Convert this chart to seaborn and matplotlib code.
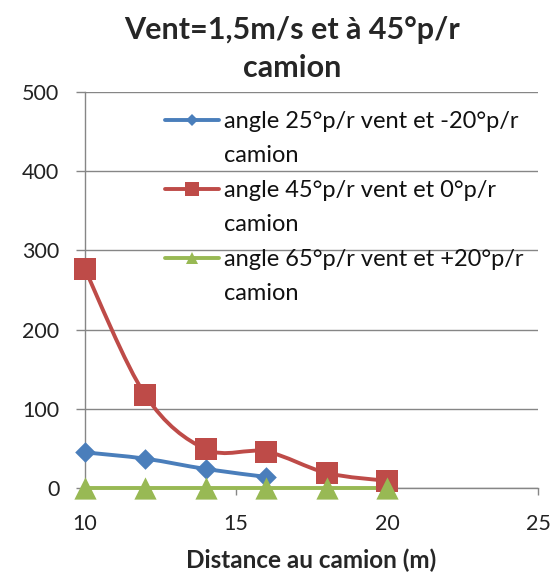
import numpy as np
import pandas as pd
import seaborn as sns
import matplotlib
matplotlib.use("Agg")
import matplotlib.pyplot as plt
from matplotlib.path import Path
from matplotlib.patches import PathPatch
from matplotlib.lines import Line2D

# ---- data ----
title = "Vent=1,5m/s et à 45°p/r\ncamion"
xlabel = "Distance au camion (m)"
series_line1 = [
    "angle 25°p/r vent et -20°p/r",
    "angle 45°p/r vent et 0°p/r",
    "angle 65°p/r vent et +20°p/r",
]
series_line2 = ["camion", "camion", "camion"]
x_blue = [10, 12, 14, 16]
y_blue = [45, 37, 24, 14]
x_red = [10, 12, 14, 16, 18, 20]
y_red = [276, 117, 49, 46, 19, 9]
x_green = [10, 12, 14, 16, 18, 20]
y_green = [0, 0, 0, 0, 0, 0]
x_ticks = [10, 15, 20, 25]
y_ticks = [0, 100, 200, 300, 400, 500]

colors = ["#4A7EBB", "#BE4B48", "#98B954"]
markers = ["D", "s", "^"]
msizes = [10.5, 16, 16]
leg_msizes = [6.5, 10, 9]

sns.set_style("white")
plt.rcParams["font.family"] = ["Lato", "DejaVu Sans"]

fig = plt.figure(figsize=(5.53, 5.76), dpi=100)
ax = fig.add_axes([85/553, 1-488/576, (538-85)/553, (488-92)/576])

frames = [
    pd.DataFrame({"x": x_blue, "y": y_blue}),
    pd.DataFrame({"x": x_red, "y": y_red}),
    pd.DataFrame({"x": x_green, "y": y_green}),
]


def smooth_path(xs, ys):
    pts = np.column_stack([xs, ys]).astype(float)
    n = len(pts)
    verts = [pts[0]]
    codes = [Path.MOVETO]
    for i in range(n - 1):
        p0 = pts[i - 1] if i > 0 else pts[i]
        p1 = pts[i]
        p2 = pts[i + 1]
        p3 = pts[i + 2] if i + 2 < n else pts[i + 1]
        c1 = p1 + (p2 - p0) / 6.0
        c2 = p2 - (p3 - p1) / 6.0
        verts += [c1, c2, p2]
        codes += [Path.CURVE4] * 3
    return Path(verts, codes)


handles = []
labels = []
for df, c, m, ms, lms, l1, l2 in zip(frames, colors, markers, msizes,
                                       leg_msizes, series_line1, series_line2):
    patch = PathPatch(smooth_path(df["x"], df["y"]), fill=False, edgecolor=c,
                      lw=2.8, zorder=3, clip_on=False)
    ax.add_patch(patch)
    sns.scatterplot(data=df, x="x", y="y", ax=ax, marker=m, s=ms**2,
                    color=c, edgecolor=c, linewidth=0, zorder=4, clip_on=False,
                    legend=False)
    handles.append(Line2D([], [], color=c, lw=2.8, marker=m,
                          markersize=lms, markeredgewidth=0))
    labels.append(l1)
    handles.append(Line2D([], [], color="none"))
    labels.append(l2)

ax.set_xlim(10, 25)
ax.set_ylim(0, 500)
ax.set_xticks(x_ticks)
ax.set_yticks(y_ticks)
ax.set_xticklabels([str(v) for v in x_ticks], fontsize=15.5, color="#222222")
ax.set_yticklabels([str(v) for v in y_ticks], fontsize=15.5, color="#222222")
ax.tick_params(axis="x", direction="out", length=5, color="#868686",
               width=1, pad=14, bottom=True)
ax.tick_params(axis="y", direction="out", length=6.5, color="#868686",
               width=1, pad=12, left=True)

ax.yaxis.grid(True, color="#868686", lw=1)
ax.set_axisbelow(True)
for s in ["top", "right"]:
    ax.spines[s].set_visible(False)
for s in ["left", "bottom"]:
    ax.spines[s].set_color("#868686")
    ax.spines[s].set_linewidth(1)

ax.set_xlabel(xlabel, fontsize=17.5, fontweight="bold", va="center")
ax.xaxis.set_label_coords(0.5, -(560-488)/396)
ax.set_ylabel("")

t1, t2 = title.split("\n")
fig.text(292/553, 1-30/576, t1, fontsize=22,
         fontweight="bold", ha="center", va="center")
fig.text(292/553, 1-68/576, t2, fontsize=22,
         fontweight="bold", ha="center", va="center")

leg = ax.legend(handles, labels, loc="upper left",
                bbox_to_anchor=((165-85)/453, 1 - (111-92)/396),
                frameon=False, fontsize=17, handlelength=2.3,
                handletextpad=0.2, labelspacing=0.57, borderaxespad=0,
                borderpad=0)
for t in leg.get_texts():
    t.set_color("#111111")

fig.savefig("out.png", dpi=100)
